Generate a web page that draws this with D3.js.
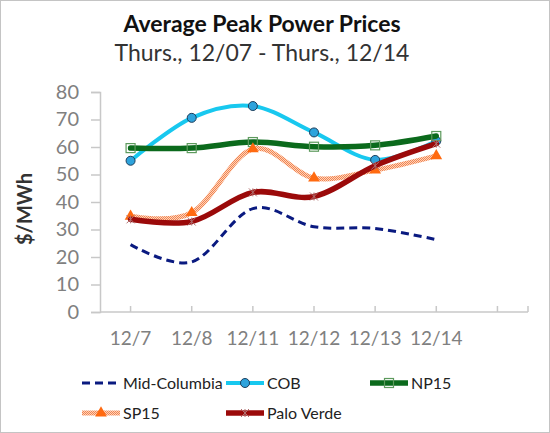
<!DOCTYPE html>
<html>
<head>
<meta charset="utf-8">
<script src="https://cdn.jsdelivr.net/npm/d3@7/dist/d3.min.js"></script>
<style>
  html, body { margin: 0; padding: 0; background: #fff; }
  svg { display: block; font-family: Lato, "Open Sans", sans-serif; }
</style>
</head>
<body>
<svg id="chart" width="550" height="433"></svg>
<script>
const categories = ["12/7", "12/8", "12/11", "12/12", "12/13", "12/14", ""];
const midColumbia = [24.5, 18.2, 37.6, 31.0, 30.4, 26.3];
const cob        = [55.0, 70.6, 74.9, 65.3, 55.3, 62.2];
const np15       = [59.6, 59.6, 61.8, 60.1, 60.6, 64.0];
const sp15       = [34.8, 36.1, 59.3, 48.7, 51.6, 56.8];
const paloVerde  = [33.7, 32.9, 43.5, 42.0, 53.2, 61.2];
const yTicks = [0, 10, 20, 30, 40, 50, 60, 70, 80];
const seriesNames = ["Mid-Columbia", "COB", "NP15", "SP15", "Palo Verde"];

const svg = d3.select("#chart");
const W = 550, H = 433;

// frame
svg.append("rect").attr("x", 0.5).attr("y", 0.5).attr("width", W - 1).attr("height", H - 1)
  .attr("fill", "#fff").attr("stroke", "#c4c4c4");

// pattern for SP15 textured line
const defs = svg.append("defs");
const pat = defs.append("pattern").attr("id", "sp15pat").attr("patternUnits", "userSpaceOnUse")
  .attr("width", 2).attr("height", 2);
pat.append("rect").attr("width", 2).attr("height", 2).attr("fill", "#fcd3bd");
pat.append("rect").attr("width", 1).attr("height", 1).attr("fill", "#f3854f");
pat.append("rect").attr("x", 1).attr("y", 1).attr("width", 1).attr("height", 1).attr("fill", "#f3854f");

// titles
svg.append("text").attr("x", 262).attr("y", 32).attr("text-anchor", "middle")
  .attr("font-size", 23).attr("font-weight", "bold").attr("fill", "#111")
  .text("Average Peak Power Prices");
svg.append("text").attr("x", 262).attr("y", 61).attr("text-anchor", "middle")
  .attr("font-size", 23).attr("fill", "#333")
  .text("Thurs., 12/07 - Thurs., 12/14");

const x = d3.scaleBand().domain(categories.map((c, i) => i)).range([100, 528]);
const xc = i => x(i) + x.bandwidth() / 2;
const y = d3.scaleLinear().domain([0, 80]).range([312, 92]);

// y axis
const yAxis = svg.append("g").attr("transform", "translate(100,0)")
  .call(d3.axisLeft(y).tickValues(yTicks).tickSize(9).tickPadding(12));
yAxis.select(".domain").attr("stroke", "#c8c8c8").attr("stroke-width", 1.5);
yAxis.selectAll(".tick line").attr("stroke", "#c8c8c8").attr("stroke-width", 1.5);
yAxis.selectAll(".tick text").attr("fill", "#808080").attr("font-size", 20)
  .attr("font-family", "Lato, 'Open Sans', sans-serif");

// x axis
const xg = svg.append("g").attr("transform", "translate(0,312)");
xg.append("line").attr("x1", 100).attr("x2", 528).attr("y1", 0).attr("y2", 0)
  .attr("stroke", "#c8c8c8").attr("stroke-width", 1.5);
const tickXs = categories.map((c, i) => xc(i)).concat([528]);
xg.selectAll("line.tk").data(tickXs).join("line").attr("class", "tk")
  .attr("x1", d => d).attr("x2", d => d).attr("y1", -6).attr("y2", 0)
  .attr("stroke", "#c8c8c8").attr("stroke-width", 1.5);
xg.selectAll("text").data(categories).join("text")
  .attr("x", (d, i) => xc(i)).attr("y", 33).attr("text-anchor", "middle")
  .attr("font-size", 19).attr("fill", "#808080").text(d => d);

// y title
svg.append("text").attr("transform", "translate(32,209) rotate(-90)")
  .attr("text-anchor", "middle").attr("font-size", 20).attr("font-weight", "bold")
  .attr("fill", "#333").text("$/MWh");

const line = d3.line().x((d, i) => xc(i)).y(d => y(d)).curve(d3.curveCatmullRom.alpha(0));

const styles = [
  { data: midColumbia, color: "#0a1a80", width: 3, dash: "8,5", marker: "none" },
  { data: cob, color: "#18c8ef", width: 4, marker: "circle" },
  { data: np15, color: "#0b6a1c", width: 5.5, marker: "square" },
  { data: sp15, color: "url(#sp15pat)", width: 5, marker: "triangle" },
  { data: paloVerde, color: "#9b0a0a", width: 5.5, marker: "star" }
];

function drawMarker(g, type, cx, cy) {
  if (type === "circle") {
    g.append("circle").attr("cx", cx).attr("cy", cy).attr("r", 4.5)
      .attr("fill", "#2ea3dc").attr("stroke", "#1d3e5c").attr("stroke-width", 1);
  } else if (type === "square") {
    g.append("rect").attr("x", cx - 4.5).attr("y", cy - 4.5).attr("width", 9).attr("height", 9)
      .attr("fill", "none").attr("stroke", "#5d9a5d").attr("stroke-width", 1.2);
  } else if (type === "triangle") {
    g.append("path").attr("d", d3.symbol(d3.symbolTriangle, 60)()).attr("transform", `translate(${cx},${cy})`)
      .attr("fill", "#ff6a10");
  } else if (type === "star") {
    g.append("path").attr("d", `M${cx-4},${cy-4}L${cx+4},${cy+4}M${cx-4},${cy+4}L${cx+4},${cy-4}M${cx},${cy-4}L${cx},${cy+4}`)
      .attr("stroke", "#b07070").attr("stroke-width", 1);
  }
}

// draw order: Mid-Columbia, COB, NP15, SP15, Palo Verde
styles.forEach(s => {
  const g = svg.append("g");
  g.append("path").datum(s.data).attr("d", line).attr("fill", "none")
    .attr("stroke", s.color).attr("stroke-width", s.width)
    .attr("stroke-dasharray", s.dash || null).attr("stroke-linecap", s.dash ? "butt" : "round");
  s.data.forEach((v, i) => drawMarker(g, s.marker, xc(i), y(v)));
});

// legend
const legendPos = [[82, 383], [226, 383], [370, 383], [82, 413], [226, 413]];
styles.forEach((s, k) => {
  const [lx, ly] = legendPos[k];
  const g = svg.append("g");
  g.append("line").attr("x1", lx).attr("x2", lx + 38).attr("y1", ly).attr("y2", ly)
    .attr("stroke", s.color).attr("stroke-width", s.width).attr("stroke-dasharray", s.dash || null);
  drawMarker(g, s.marker, lx + 19, ly);
  g.append("text").attr("x", lx + 41).attr("y", ly + 5.5).attr("font-size", 16)
    .attr("fill", "#222").text(seriesNames[k]);
});
</script>
</body>
</html>
